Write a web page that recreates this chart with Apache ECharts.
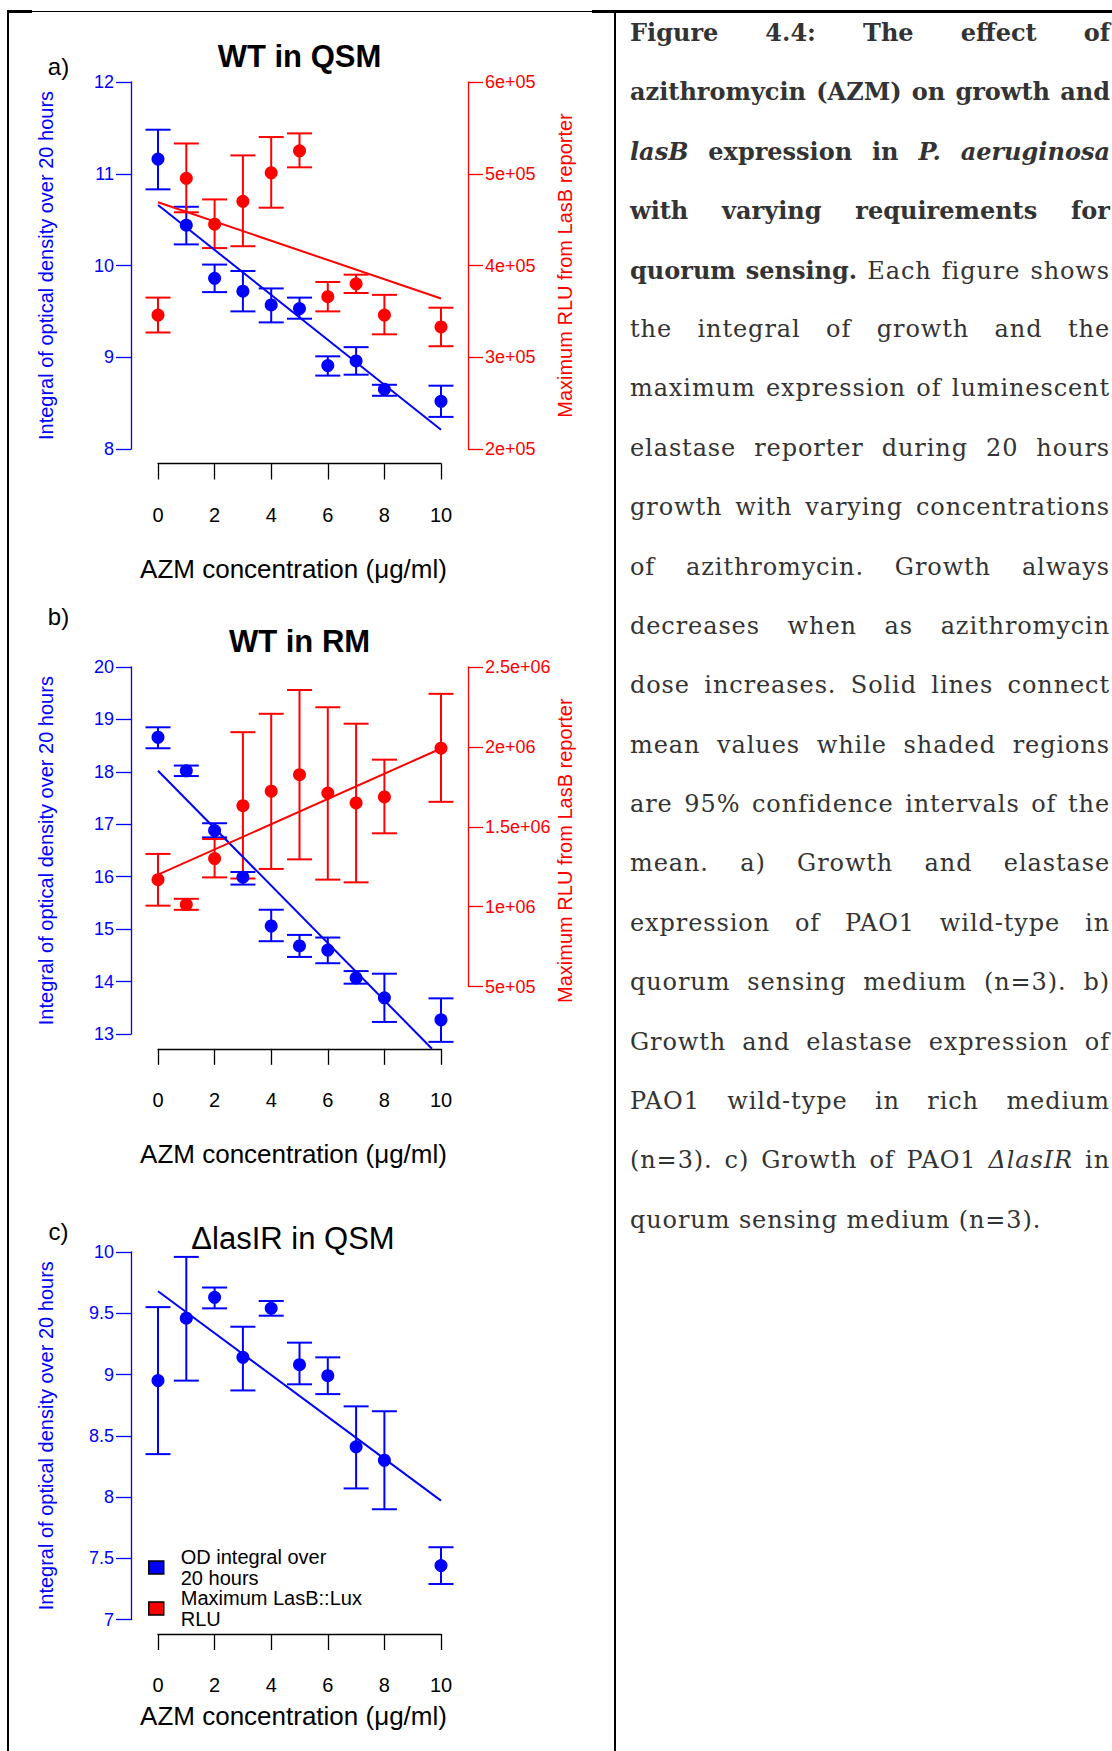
<!DOCTYPE html>
<html>
<head>
<meta charset="utf-8">
<script src="https://cdn.jsdelivr.net/npm/echarts/dist/echarts.min.js"></script>
<style>
html,body{margin:0;padding:0;background:#fff;}
#wrap{position:relative;width:1112px;height:1751px;overflow:hidden;background:#fff;}
#chart{position:absolute;left:0;top:0;width:1112px;height:1751px;}
.bl{position:absolute;background:#000;}
#cap{position:absolute;left:630px;top:3px;width:480px;font-family:'DejaVu Serif',serif;font-size:24px;color:#333;}
#cap div{height:59.4px;line-height:59.4px;text-align:justify;text-align-last:justify;letter-spacing:0.9px;}
#cap b{letter-spacing:0;}
#cap div.last{text-align:left;text-align-last:left;}
</style>
</head>
<body>
<div id="wrap">
  <div id="chart"></div>
  <div class="bl" style="left:7px;top:10px;width:2px;height:1741px;"></div>
  <div class="bl" style="left:614px;top:10px;width:2px;height:1741px;"></div>
  <div class="bl" style="left:7px;top:10px;width:25px;height:2.5px;"></div>
  <div class="bl" style="left:32px;top:10.5px;width:560px;height:1px;"></div>
  <div class="bl" style="left:592px;top:10px;width:520px;height:2.5px;"></div>
  <div id="cap">
    <div><b>Figure 4.4: The effect of</b></div>
    <div><b>azithromycin (AZM) on growth and</b></div>
    <div><b><i>lasB</i> expression in <i>P. aeruginosa</i></b></div>
    <div><b>with varying requirements for</b></div>
    <div><b>quorum sensing.</b> Each figure shows</div>
    <div>the integral of growth and the</div>
    <div>maximum expression of luminescent</div>
    <div>elastase reporter during 20 hours</div>
    <div>growth with varying concentrations</div>
    <div>of azithromycin. Growth always</div>
    <div>decreases when as azithromycin</div>
    <div>dose increases. Solid lines connect</div>
    <div>mean values while shaded regions</div>
    <div>are 95% confidence intervals of the</div>
    <div>mean. a) Growth and elastase</div>
    <div>expression of PAO1 wild-type in</div>
    <div>quorum sensing medium (n=3). b)</div>
    <div>Growth and elastase expression of</div>
    <div>PAO1 wild-type in rich medium</div>
    <div>(n=3). c) Growth of PAO1 <i>ΔlasIR</i> in</div>
    <div class="last">quorum sensing medium (n=3).</div>
  </div>
</div>
<script>
// ---------------- data ----------------
const conc = [0, 1, 2, 3, 4, 5, 6, 7, 8, 10];
const xTickValues = [0, 2, 4, 6, 8, 10];

// a) WT in QSM
const odA    = [11.16, 10.44, 9.86, 9.72, 9.57, 9.53, 8.91, 8.96, 8.65, 8.52];
const odALo  = [10.83, 10.23, 9.71, 9.50, 9.38, 9.42, 8.80, 8.81, 8.58, 8.35];
const odAHi  = [11.48, 10.64, 10.01, 9.94, 9.75, 9.65, 9.01, 9.11, 8.70, 8.69];
const rluA   = [3.46e5, 4.95e5, 4.45e5, 4.70e5, 5.01e5, 5.25e5, 3.66e5, 3.80e5, 3.46e5, 3.33e5];
const rluALo = [3.27e5, 4.58e5, 4.19e5, 4.21e5, 4.63e5, 5.07e5, 3.50e5, 3.70e5, 3.25e5, 3.12e5];
const rluAHi = [3.65e5, 5.33e5, 4.72e5, 5.20e5, 5.40e5, 5.44e5, 3.82e5, 3.90e5, 3.68e5, 3.54e5];
const fitOdA  = [[0, 10.66], [10, 8.21]];
const fitRluA = [[0, 4.69e5], [10, 3.64e5]];

// b) WT in RM
const odB    = [18.66, 18.02, 16.88, 15.99, 15.06, 14.68, 14.60, 14.07, 13.69, 13.27];
const odBLo  = [18.45, 17.92, 16.75, 15.85, 14.77, 14.47, 14.35, 13.96, 13.23, 12.85];
const odBHi  = [18.85, 18.12, 17.02, 16.09, 15.37, 14.89, 14.84, 14.20, 14.15, 13.68];
const rluB   = [1.169e6, 1.013e6, 1.301e6, 1.632e6, 1.723e6, 1.826e6, 1.711e6, 1.649e6, 1.687e6, 1.992e6];
const rluBLo = [1.006e6, 0.980e6, 1.183e6, 1.176e6, 1.236e6, 1.296e6, 1.169e6, 1.152e6, 1.459e6, 1.656e6];
const rluBHi = [1.330e6, 1.049e6, 1.423e6, 2.092e6, 2.207e6, 2.356e6, 2.248e6, 2.145e6, 1.920e6, 2.332e6];
const fitOdB  = [[0, 18.02], [9.68, 12.72]];
const fitRluB = [[0, 1.20e6], [10, 1.99e6]];

// c) ΔlasIR in QSM
const odC    = [8.95, 9.46, 9.63, 9.14, 9.54, 9.08, 8.99, 8.41, 8.30, 7.44];
const odCLo  = [8.35, 8.95, 9.54, 8.87, 9.48, 8.92, 8.84, 8.07, 7.90, 7.29];
const odCHi  = [9.55, 9.96, 9.71, 9.39, 9.60, 9.26, 9.14, 8.74, 8.70, 7.59];
const fitOdC  = [[0, 9.68], [10, 7.97]];

const titles = ['WT in QSM', 'WT in RM', 'ΔlasIR in QSM'];
const panelLetters = ['a)', 'b)', 'c)'];
const xTitle = 'AZM concentration (μg/ml)';
const yTitleLeft = 'Integral of optical density over 20 hours';
const yTitleRight = 'Maximum RLU from LasB reporter';
const legendNames = ['OD integral over\n20 hours', 'Maximum LasB::Lux\nRLU'];

// ---------------- styling / layout ----------------
const BLUE = '#0000FF', RED = '#FF0000', FONT = '"Liberation Sans", Arial, sans-serif';
const X0 = 131, X1 = 468;      // plot region (y axes)
const XA0 = 158, XA1 = 441;    // x axis 0..10
const pxPerUnit = (XA1 - XA0) / 10;
const xmin = -(XA0 - X0) / pxPerUnit, xmax = 10 + (X1 - XA1) / pxPerUnit;

function expFmt(v) { return v.toExponential().replace(/e([+-])(\d)$/, 'e$10$2'); }

const panels = [
  { top: 82, h: 367, axisY: 463.5, nameGap: 92, titleY: 56.6, letterY: 66, titleX: 299.5, bold: true,
    left: { min: 8, max: 12, interval: 1 }, od: odA, lo: odALo, hi: odAHi, fit: fitOdA,
    right: { top: 82, h: 367, min: 2e5, max: 6e5, interval: 1e5, v: rluA, lo: rluALo, hi: rluAHi, fit: fitRluA } },
  { top: 667, h: 367, axisY: 1048.8, nameGap: 92, titleY: 641, letterY: 616.4, titleX: 299.5, bold: true,
    left: { min: 13, max: 20, interval: 1 }, od: odB, lo: odBLo, hi: odBHi, fit: fitOdB,
    right: { top: 667, h: 319.5, min: 5e5, max: 2.5e6, interval: 5e5, v: rluB, lo: rluBLo, hi: rluBHi, fit: fitRluB } },
  { top: 1252, h: 367.5, axisY: 1634, nameGap: 69, titleY: 1238, letterY: 1231, titleX: 293, bold: false,
    left: { min: 7, max: 10, interval: 0.5 }, od: odC, lo: odCLo, hi: odCHi, fit: fitOdC, right: null }
];

function errRender(color) {
  return function (params, api) {
    const x = api.value(0), lo = api.value(1), hi = api.value(2);
    const pLo = api.coord([x, lo]), pHi = api.coord([x, hi]);
    const cw = 12.5;
    const st = { stroke: color, lineWidth: 2, fill: null };
    return { type: 'group', children: [
      { type: 'line', shape: { x1: pLo[0], y1: pLo[1], x2: pHi[0], y2: pHi[1] }, style: st },
      { type: 'line', shape: { x1: pLo[0] - cw, y1: pLo[1], x2: pLo[0] + cw, y2: pLo[1] }, style: st },
      { type: 'line', shape: { x1: pHi[0] - cw, y1: pHi[1], x2: pHi[0] + cw, y2: pHi[1] }, style: st }
    ]};
  };
}

const grid = [], xAxis = [], yAxis = [], series = [], graphic = [];

function yAx(gi, cfg, color, pos, fmt) {
  return { gridIndex: gi, type: 'value', position: pos, min: cfg.min, max: cfg.max, interval: cfg.interval,
    axisLine: { show: true, onZero: false, lineStyle: { color: color, width: 1.3 } },
    axisTick: { show: true, length: 15, lineStyle: { color: color, width: 1.3 } },
    axisLabel: { color: color, fontSize: 18, margin: 17, fontFamily: FONT, formatter: fmt },
    splitLine: { show: false } };
}
function hiddenX(gi) {
  return { gridIndex: gi, type: 'value', min: xmin, max: xmax, show: false, axisLine: { onZero: false }, splitLine: { show: false } };
}

function addGroup(gi, color, name, xs, v, lo, hi, fit) {
  series.push({ type: 'custom', xAxisIndex: gi, yAxisIndex: gi, clip: false, silent: true,
    renderItem: errRender(color), encode: { x: 0, y: [1, 2] },
    data: xs.map((x, k) => [x, lo[k], hi[k]]) });
  series.push({ type: 'line', xAxisIndex: gi, yAxisIndex: gi, clip: false, silent: true, symbol: 'none',
    lineStyle: { color: color, width: 2 }, data: fit });
  series.push({ type: 'scatter', name: name, xAxisIndex: gi, yAxisIndex: gi, clip: false, symbol: 'circle', symbolSize: 13,
    itemStyle: { color: color, opacity: 1 }, data: xs.map((x, k) => [x, v[k]]) });
}

panels.forEach((p, i) => {
  // left axis + OD data
  let gi = grid.length;
  grid.push({ left: X0, width: X1 - X0, top: p.top, height: p.h });
  xAxis.push(hiddenX(gi));
  yAxis.push(yAx(gi, p.left, BLUE, 'left', v => String(v)));
  addGroup(gi, BLUE, legendNames[0], conc, p.od, p.lo, p.hi, p.fit);

  // right axis + RLU data
  if (p.right) {
    gi = grid.length;
    grid.push({ left: X0, width: X1 - X0, top: p.right.top, height: p.right.h });
    xAxis.push(hiddenX(gi));
    yAxis.push(yAx(gi, p.right, RED, 'right', expFmt));
    addGroup(gi, RED, legendNames[1], conc, p.right.v, p.right.lo, p.right.hi, p.right.fit);
  }

  // x axis
  gi = grid.length;
  grid.push({ left: XA0, width: XA1 - XA0, top: p.axisY - 1, height: 1 });
  xAxis.push({ gridIndex: gi, type: 'value', position: 'bottom', min: 0, max: 10, interval: 2,
    axisLine: { show: true, onZero: false, lineStyle: { color: '#000', width: 1.3 } },
    axisTick: { show: true, length: 16, lineStyle: { color: '#000', width: 1.3 } },
    axisLabel: { color: '#000', fontSize: 20, margin: 41, fontFamily: FONT,
      customValues: xTickValues },
    splitLine: { show: false },
    name: xTitle, nameLocation: 'middle', nameGap: p.nameGap,
    nameTextStyle: { color: '#000', fontSize: 26, fontFamily: FONT, padding: [0, 12, 0, 0] } });
  yAxis.push({ gridIndex: gi, type: 'value', show: false, axisLine: { onZero: false }, splitLine: { show: false } });

  // texts
  const mid = (p.top - 14.5 + p.axisY) / 2;
  graphic.push({ type: 'text', x: p.titleX, y: p.titleY, style: { text: titles[i],
    font: (p.bold ? 'bold ' : '') + '31px ' + FONT, fill: '#000', align: 'center', verticalAlign: 'middle', textAlign: 'center', textVerticalAlign: 'middle' } });
  graphic.push({ type: 'text', x: 58.5, y: p.letterY, style: { text: panelLetters[i],
    font: '24px ' + FONT, fill: '#000', align: 'center', verticalAlign: 'middle', textAlign: 'center', textVerticalAlign: 'middle' } });
  graphic.push({ type: 'text', x: 45.5, y: mid, rotation: Math.PI / 2, style: { text: yTitleLeft,
    font: '20px ' + FONT, fill: BLUE, align: 'center', verticalAlign: 'middle', textAlign: 'center', textVerticalAlign: 'middle' } });
  if (p.right) {
    graphic.push({ type: 'text', x: 564.6, y: mid, rotation: Math.PI / 2, style: { text: yTitleRight,
      font: '20px ' + FONT, fill: RED, align: 'center', verticalAlign: 'middle', textAlign: 'center', textVerticalAlign: 'middle' } });
  }
});

const chart = echarts.init(document.getElementById('chart'), null, { renderer: 'svg', width: 1112, height: 1751 });
chart.setOption({
  animation: false,
  backgroundColor: 'transparent',
  textStyle: { fontFamily: FONT },
  grid: grid, xAxis: xAxis, yAxis: yAxis, series: series, graphic: graphic,
  legend: {
    data: legendNames, orient: 'vertical', left: 148, top: 1547, padding: 0, icon: 'rect',
    itemWidth: 15, itemHeight: 13, itemGap: 0, selectedMode: false,
    itemStyle: { borderColor: '#000', borderWidth: 1.5 },
    textStyle: { fontSize: 20, lineHeight: 20.5, color: '#000', fontFamily: FONT, padding: [0, 0, 0, 12] }
  }
});
</script>
</body>
</html>
